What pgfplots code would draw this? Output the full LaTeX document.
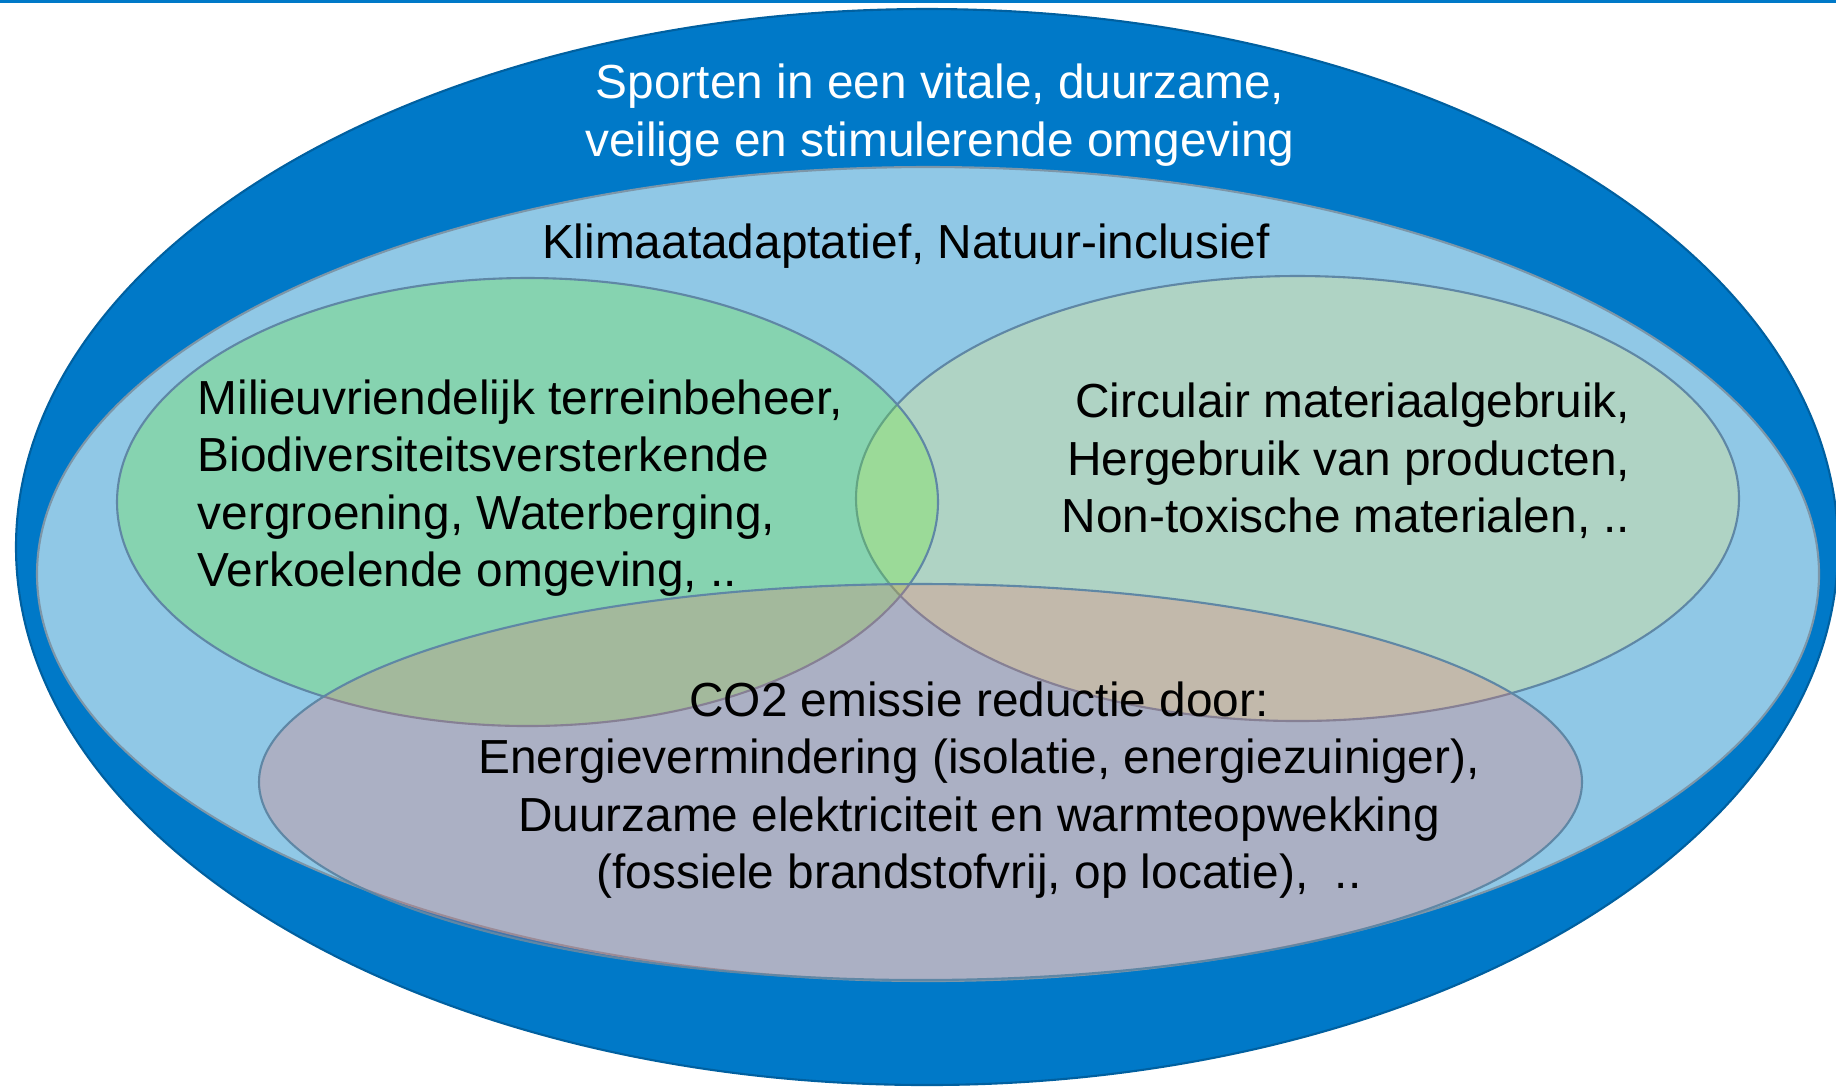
\documentclass[border=0pt]{standalone}
\usepackage{pgfplots}
\pgfplotsset{compat=1.18}
\usepackage{fontspec}
\setmainfont{Liberation Sans}
\definecolor{darkblue}{RGB}{0,121,200}
\definecolor{darkblueedge}{RGB}{0,96,160}
\definecolor{lightblue}{RGB}{144,200,230}
\definecolor{lbedge}{RGB}{125,150,168}
\definecolor{inedge}{RGB}{95,135,165}
\definecolor{cgreen}{RGB}{111,237,53}
\definecolor{cright}{RGB}{247,237,120}
\definecolor{cbottom}{RGB}{252,108,98}
\newcommand{\fs}{\fontsize{13.6}{16.3}\selectfont}
\begin{document}
\begin{tikzpicture}
\begin{axis}[width=18.36cm, height=10.87cm, scale only axis,
  xmin=0, xmax=1836, ymin=0, ymax=1087, y dir=reverse,
  hide axis, clip=true]
% top rule
\fill[darkblue] (axis cs:0,0) rectangle (axis cs:1836,3);
% outer ellipse
\filldraw[fill=darkblue, draw=darkblueedge, line width=0.6pt] (axis cs:927,547) ellipse [x radius=911, y radius=538];
% light blue ellipse
\filldraw[fill=lightblue, draw=lbedge, line width=0.6pt] (axis cs:928,574) ellipse [x radius=891, y radius=407];
% right ellipse
\filldraw[fill=cright, fill opacity=0.3, draw=inedge, line width=0.6pt] (axis cs:1297.5,498.5) ellipse [x radius=441.5, y radius=222.5];
% green ellipse
\filldraw[fill=cgreen, fill opacity=0.3, draw=inedge, line width=0.6pt] (axis cs:527.5,502) ellipse [x radius=410.5, y radius=224];
% bottom ellipse
\filldraw[fill=cbottom, fill opacity=0.25, draw=inedge, line width=0.6pt] (axis cs:920.5,782) ellipse [x radius=661.5, y radius=198];
% texts
\node[text=white, align=center, inner sep=0pt, font=\fs] at (axis cs:940,115) {Sporten in een vitale, duurzame,\\veilige en stimulerende omgeving};
\node[text=black, align=center, inner sep=0pt, font=\fs] at (axis cs:906,246) {Klimaatadaptatief, Natuur-inclusief};
\node[text=black, align=left, inner sep=0pt, anchor=west, font=\fs] at (axis cs:197,488) {Milieuvriendelijk terreinbeheer,\\Biodiversiteitsversterkende\\vergroening, Waterberging,\\Verkoelende omgeving, ..};
\node[text=black, align=right, inner sep=0pt, anchor=east, font=\fs] at (axis cs:1631,461) {Circulair materiaalgebruik,\\Hergebruik van producten,\\Non-toxische materialen, ..};
\node[text=black, align=center, inner sep=0pt, font=\fs] at (axis cs:979,790) {CO2 emissie reductie door:\\Energievermindering (isolatie, energiezuiniger),\\Duurzame elektriciteit en warmteopwekking\\(fossiele brandstofvrij, op locatie),~~..};
\end{axis}
\pgfresetboundingbox
\useasboundingbox (current axis.south west) rectangle (current axis.north east);
\end{tikzpicture}
\end{document}
